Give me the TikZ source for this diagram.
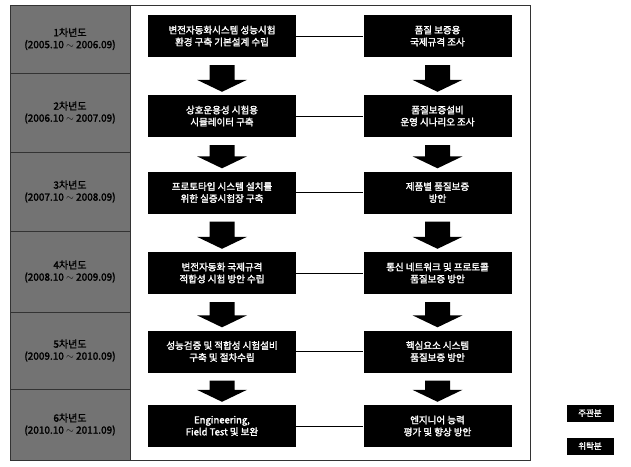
\documentclass[tikz,border=0pt]{standalone}
\usepackage{fontspec}
\newfontfamily\kr{Noto Sans CJK KR}[FakeBold=2]
\usetikzlibrary{calc}
\tikzset{
  stepbox/.style={fill=black, text=white, minimum width=148pt, minimum height=42pt,
    inner sep=0pt, align=center, font=\kr\fontsize{9.5}{12}\selectfont},
  yearbox/.style={fill=black!55, draw=black!80, line width=0.6pt, minimum width=120pt,
    inner sep=0pt, align=center, font=\kr\fontsize{10}{12}\selectfont},
  legendbox/.style={fill=black, text=white, minimum width=47pt, minimum height=17pt,
    inner sep=0pt, font=\kr\fontsize{8.5}{10}\selectfont},
  link/.style={draw=black, line width=0.6pt},
  frame/.style={draw=black!80, line width=0.7pt}
}
\newcommand\blockarrow[2]{%
  \fill[black] ($(#1.south)+(-12.5,8)$) -- ($(#1.south)+(12.5,8)$) --
    ($(#2.north)+(12.5,-15)$) -- ($(#2.north)+(25,-15)$) -- ($(#2.north)+(0,-3)$) --
    ($(#2.north)+(-25,-15)$) -- ($(#2.north)+(-12.5,-15)$) -- cycle;}
\begin{document}
\begin{tikzpicture}[x=1pt,y=-1pt]
\useasboundingbox (0,0) rectangle (631,466);
\fill[white] (0,0) rectangle (631,466);
% frame
\draw[frame] (10,5) rectangle (530,460);
% year column
\node[yearbox, minimum height=68pt] (y1) at (70,39) {1차년도\\(2005.10 $\sim$ 2006.09)};
\node[yearbox, minimum height=79pt] (y2) at (70,112.5) {2차년도\\(2006.10 $\sim$ 2007.09)};
\node[yearbox, minimum height=79pt] (y3) at (70,191.5) {3차년도\\(2007.10 $\sim$ 2008.09)};
\node[yearbox, minimum height=81pt] (y4) at (70,271.5) {4차년도\\(2008.10 $\sim$ 2009.09)};
\node[yearbox, minimum height=77pt] (y5) at (70,350.5) {5차년도\\(2009.10 $\sim$ 2010.09)};
\node[yearbox, minimum height=71pt] (y6) at (70,424.5) {6차년도\\(2010.10 $\sim$ 2011.09)};
% middle column
\node[stepbox] (m1) at (222,36) {변전자동화시스템 성능시험\\환경 구축 기본설계 수립};
\node[stepbox] (m2) at (222,116) {상호운용성 시험용\\시뮬레이터 구축};
\node[stepbox] (m3) at (222,192.5) {프로토타입 시스템 설치를\\위한 실증시험장 구축};
\node[stepbox] (m4) at (222,273) {변전자동화 국제규격\\적합성 시험 방안 수립};
\node[stepbox] (m5) at (222,351.5) {성능검증 및 적합성 시험설비\\구축 및 절차수립};
\node[stepbox] (m6) at (222,426) {Engineering,\\Field Test 및 보완};
% right column
\node[stepbox] (r1) at (437.5,36) {품질 보증용\\국제규격 조사};
\node[stepbox] (r2) at (437.5,116) {품질보증설비\\운영 시나리오 조사};
\node[stepbox] (r3) at (437.5,192.5) {제품별 품질보증\\방안};
\node[stepbox] (r4) at (437.5,273) {통신 네트워크 및 프로토콜\\품질보증 방안};
\node[stepbox] (r5) at (437.5,351.5) {핵심요소 시스템\\품질보증 방안};
\node[stepbox] (r6) at (437.5,426) {엔지니어 능력\\평가 및 향상 방안};
% arrows
\foreach \a/\b in {m1/m2,m2/m3,m3/m4,m4/m5,m5/m6,r1/r2,r2/r3,r3/r4,r4/r5,r5/r6}{\blockarrow{\a}{\b}}
% links
\foreach \i in {1,...,6}{\draw[link] (m\i.east) -- (r\i.west);}
% legend
\node[legendbox] (l1) at (590,413) {주관분};
\node[legendbox] (l2) at (590,446) {위탁분};
\end{tikzpicture}
\end{document}
